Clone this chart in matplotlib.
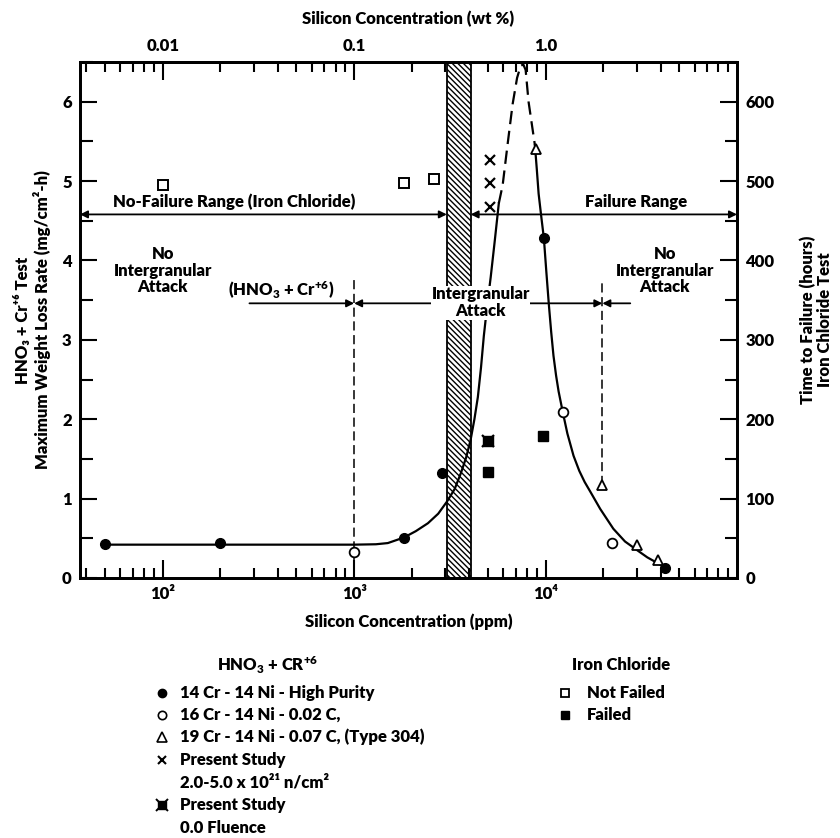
import matplotlib
matplotlib.use("Agg")
import matplotlib.pyplot as plt
from matplotlib.lines import Line2D
from matplotlib.ticker import FixedLocator, LogLocator, MultipleLocator, NullFormatter

plt.rcParams["font.family"] = ["Lato", "DejaVu Sans"]
plt.rcParams["font.weight"] = "heavy"
plt.rcParams["axes.labelweight"] = "heavy"
plt.rcParams["mathtext.default"] = "regular"
plt.rcParams["hatch.linewidth"] = 1.0

# HNO3 + Cr+6 test: max weight loss rate (mg/cm2-h) vs silicon (ppm)
hp_si = [50, 200, 1820, 2870, 9800, 42200]
hp_rate = [0.43, 0.44, 0.50, 1.32, 4.28, 0.13]
c02_si = [1000, 12300, 22300]
c02_rate = [0.33, 2.09, 0.44]
t304_si = [8870, 19800, 30200, 38700]
t304_rate = [5.41, 1.17, 0.41, 0.23]
irr_si = [5100, 5100, 5100]
irr_rate = [5.26, 4.97, 4.67]
zero_si = [5000]
zero_rate = [1.72]

# iron chloride test: time to failure (hours)
nf_si = [100, 1820, 2610]
nf_hours = [495, 498, 503]
fail_si = [5000, 9700]
fail_hours = [133, 179]

# trend curve (solid / dashed / solid)
rise_si = [50, 200, 1000, 1300, 1500, 1820, 2100, 2430, 2750, 3050, 3350, 3610,
           3850, 4060, 4250, 4430, 4600, 4760, 4950, 5170, 5430, 5700]
rise_rate = [0.42, 0.42, 0.42, 0.425, 0.44, 0.51, 0.59, 0.69, 0.81, 0.96, 1.12, 1.32,
             1.52, 1.74, 2.00, 2.28, 2.65, 3.05, 3.42, 3.79, 4.25, 4.72]
peak_si = [5700, 5970, 6340, 6730, 7100, 7410, 7650, 7870, 8150, 8800]
peak_rate = [4.72, 4.95, 5.47, 5.97, 6.30, 6.45, 6.47, 6.40, 6.00, 5.45]
fall_si = [8800, 9000, 9200, 9500, 9800, 10100, 10400, 10700, 11000, 11350, 11700,
           12300, 13000, 14000, 15000, 16000, 17200, 19300, 22600, 26000, 30100,
           34000, 38300, 42200]
fall_rate = [5.45, 5.15, 4.84, 4.55, 4.28, 3.85, 3.45, 3.10, 2.80, 2.55, 2.35,
             2.09, 1.82, 1.54, 1.35, 1.21, 1.08, 0.87, 0.62, 0.46, 0.35,
             0.26, 0.19, 0.13]

band_si = [3050, 4060]
iga_limits = [1000, 19800]

XMIN, XMAX = 37, 1e5
W, H = 840, 838

fig = plt.figure(figsize=(W / 100, H / 100), dpi=100)
ax = fig.add_axes([80 / W, 1 - 578 / H, 657 / W, 516 / H])
ax.set_xscale("log")
ax.set_xlim(XMIN, XMAX)
ax.set_ylim(0, 6.5)

ax2 = ax.twinx()
ax2.set_ylim(0, 650)

ax.axvspan(*band_si, facecolor="white", edgecolor="black", hatch="\\\\\\\\\\\\", lw=1.3, zorder=1)

# trend curve
ax.plot(rise_si, rise_rate, color="black", lw=1.6, zorder=3)
ax.plot(peak_si, peak_rate, color="black", lw=1.6, ls=(0, (6, 3)), zorder=3)
ax.plot(fall_si, fall_rate, color="black", lw=1.6, zorder=3)

# boundary dashed lines
ax.plot([iga_limits[0]] * 2, [0, 3.77], color="black", lw=1.1, ls=(0, (6, 3)), zorder=2)
ax.plot([iga_limits[1]] * 2, [t304_rate[1], 3.72], color="black", lw=1.1, ls=(0, (6, 3)), zorder=2)

# data
ax.plot(hp_si, hp_rate, "o", color="black", ms=7, zorder=5)
ax.plot(c02_si, c02_rate, "o", mfc="white", mec="black", mew=1.3, ms=7, zorder=5)
ax.plot(t304_si, t304_rate, "^", mfc="white", mec="black", mew=1.3, ms=7.5, zorder=5)
ax.plot(irr_si, irr_rate, "x", color="black", mew=1.6, ms=6.5, zorder=5)
ax.plot(zero_si, zero_rate, "s", color="black", ms=7, zorder=5)
ax.plot(zero_si, zero_rate, "x", color="black", mew=1.6, ms=9, zorder=5)
ax2.plot(nf_si, nf_hours, "s", mfc="white", mec="black", mew=1.4, ms=6.5, zorder=5)
ax2.plot(fail_si, fail_hours, "s", color="black", ms=7, zorder=5)

# range arrows
arrow = dict(color="black", lw=1.3, shrinkA=0, shrinkB=0, mutation_scale=11)
y_fail = 4.58
ax.annotate("", xy=(XMIN, y_fail), xytext=(band_si[0], y_fail),
            arrowprops=dict(arrowstyle="<|-|>", **arrow))
ax.annotate("", xy=(XMAX, y_fail), xytext=(band_si[1], y_fail),
            arrowprops=dict(arrowstyle="<|-|>", **arrow))
y_iga = 3.46
ax.annotate("", xy=(iga_limits[0], y_iga), xytext=(284, y_iga),
            arrowprops=dict(arrowstyle="-|>", **arrow))
ax.annotate("", xy=(iga_limits[0], y_iga), xytext=(iga_limits[1], y_iga),
            arrowprops=dict(arrowstyle="<|-|>", **arrow))
ax.annotate("", xy=(iga_limits[1], y_iga), xytext=(27700, y_iga),
            arrowprops=dict(arrowstyle="-|>", **arrow))

fs = 12
ax.text(237, 4.64, "No-Failure Range (Iron Chloride)", ha="center", va="bottom", fontsize=fs)
ax.text(29800, 4.64, "Failure Range", ha="center", va="bottom", fontsize=fs)
ax.text(100, 3.87, "No\nIntergranular\nAttack", ha="center", va="center", fontsize=fs, linespacing=1.05)
ax.text(42000, 3.87, "No\nIntergranular\nAttack", ha="center", va="center", fontsize=fs, linespacing=1.05)
ax.text(417, 3.62, "(HNO$_3$ + Cr$^{+6}$)", ha="center", va="center", fontsize=fs)
ax.text(4580, 3.47, "Intergranular\nAttack", ha="center", va="center", fontsize=fs, linespacing=1.05,
        zorder=4, bbox=dict(facecolor="white", edgecolor="none", pad=0.5))

# axes styling
for spine in ax.spines.values():
    spine.set_linewidth(2)
ax.yaxis.set_major_locator(MultipleLocator(1))
ax.yaxis.set_minor_locator(MultipleLocator(0.5))
ax.xaxis.set_major_locator(FixedLocator([1e2, 1e3, 1e4]))
ax.xaxis.set_minor_locator(LogLocator(base=10, subs=range(2, 10)))
ax.xaxis.set_minor_formatter(NullFormatter())
ax.set_xticklabels(["10²", "10³", "10⁴"])
ax.tick_params(axis="both", which="both", direction="in", width=1.5, labelsize=fs)
ax.tick_params(axis="x", which="major", length=13, pad=6)
ax.tick_params(axis="x", which="minor", length=7)
ax.tick_params(axis="y", which="major", length=12, pad=6)
ax.tick_params(axis="y", which="minor", length=9)

ax2.yaxis.set_major_locator(MultipleLocator(100))
ax2.yaxis.set_minor_locator(MultipleLocator(50))
ax2.tick_params(axis="y", which="both", direction="in", width=1.5, labelsize=fs, pad=6)
ax2.tick_params(axis="y", which="major", length=12)
ax2.tick_params(axis="y", which="minor", length=9)
for spine in ax2.spines.values():
    spine.set_linewidth(2)

top = ax.secondary_xaxis("top", functions=(lambda x: x / 1e4, lambda x: x * 1e4))
top.set_xscale("log")
top.xaxis.set_major_locator(FixedLocator([0.01, 0.1, 1.0]))
top.xaxis.set_minor_locator(LogLocator(base=10, subs=range(2, 10)))
top.xaxis.set_minor_formatter(NullFormatter())
top.set_xticklabels(["0.01", "0.1", "1.0"])
top.tick_params(axis="x", which="both", direction="in", width=1.5, labelsize=fs)
top.tick_params(axis="x", which="major", length=13, pad=6)
top.tick_params(axis="x", which="minor", length=7)
top.spines["top"].set_linewidth(2)

ax.set_xlabel("Silicon Concentration (ppm)", fontsize=fs, labelpad=8)
top.set_xlabel("Silicon Concentration (wt %)", fontsize=fs, labelpad=10)
ax.set_ylabel("HNO₃ + Cr⁺⁶ Test\nMaximum Weight Loss Rate (mg/cm²-h)", fontsize=fs, labelpad=8,
              linespacing=1.1)
ax2.set_ylabel("Time to Failure (hours)\nIron Chloride Test", fontsize=fs, labelpad=18,
               linespacing=1.1)

# legend block
def fx(px):
    return px / W


def fy(py):
    return 1 - py / H


lk = dict(transform=fig.transFigure, fontsize=fs, va="center")
fig.text(fx(268), fy(665), "HNO$_3$ + CR$^{+6}$", ha="center", **lk)
rows = [
    (693, "14 Cr - 14 Ni - High Purity", dict(marker="o", color="black", ms=6)),
    (715, "16 Cr - 14 Ni - 0.02 C,", dict(marker="o", mfc="white", mec="black", mew=1.2, ms=6)),
    (737, "19 Cr - 14 Ni - 0.07 C, (Type 304)", dict(marker="^", mfc="white", mec="black", mew=1.2, ms=6.5)),
    (760, "Present Study", dict(marker="x", color="black", mew=1.5, ms=6)),
    (782, "2.0-5.0 x 10²¹ n/cm²", None),
    (805, "Present Study", dict(marker="s", color="black", ms=5.5)),
    (828, "0.0 Fluence", None),
]
for py, label, style in rows:
    fig.text(fx(180), fy(py), label, ha="left", **lk)
    if style is not None:
        fig.add_artist(Line2D([fx(162)], [fy(py)], transform=fig.transFigure, ls="none", **style))
fig.add_artist(Line2D([fx(162)], [fy(805)], transform=fig.transFigure, ls="none",
                      marker="x", color="black", mew=1.4, ms=8))

fig.text(fx(572), fy(665), "Iron Chloride", ha="left", **lk)
fig.text(fx(587), fy(693), "Not Failed", ha="left", **lk)
fig.text(fx(587), fy(715), "Failed", ha="left", **lk)
fig.add_artist(Line2D([fx(565)], [fy(693)], transform=fig.transFigure, ls="none",
                      marker="s", mfc="white", mec="black", mew=1.3, ms=5.5))
fig.add_artist(Line2D([fx(565)], [fy(715)], transform=fig.transFigure, ls="none",
                      marker="s", color="black", ms=6))

fig.savefig("out.png", dpi=100)
